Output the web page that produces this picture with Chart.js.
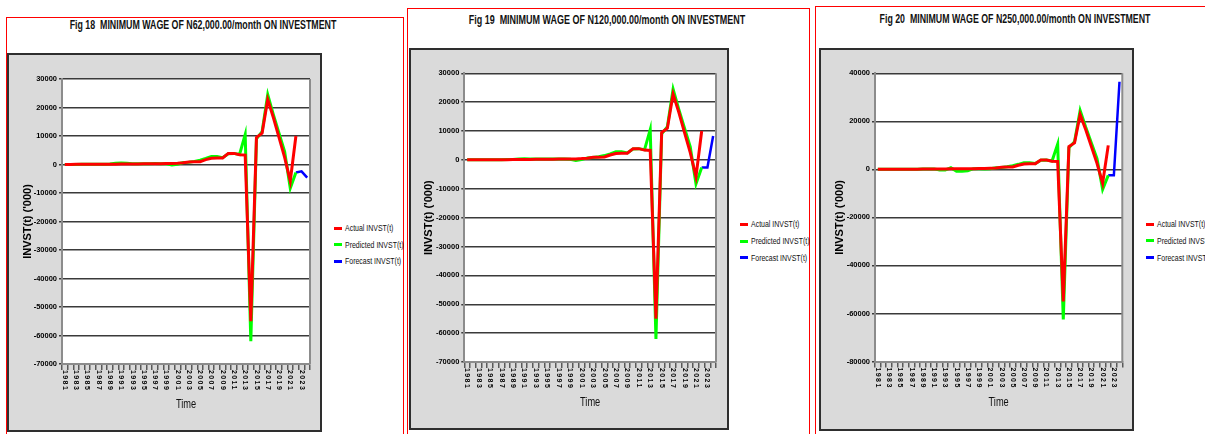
<!DOCTYPE html>
<html>
<head>
<meta charset="utf-8">
<script src="https://cdn.jsdelivr.net/npm/chart.js@4.4.1/dist/chart.umd.min.js"></script>
<style>
  body { margin: 0; width: 1205px; height: 434px; background: #fff; overflow: hidden; position: relative; font-family: 'Liberation Sans', Arial, sans-serif; }
  .frame { position: absolute; border: 1px solid #ff0000; box-sizing: border-box; }
  .title { position: absolute; font-weight: bold; font-size: 12.5px; white-space: pre; color: #111; }
  .box { position: absolute; background: #dadada; border: 2px solid #2e2e2e; box-sizing: border-box; }
  .box canvas { position: absolute; left: 0; top: 0; }
  .legend-item { position: absolute; font-size: 8.5px; white-space: nowrap; color: #111; }
  .swatch { position: absolute; width: 8px; height: 3px; }
</style>
</head>
<body>
<script>
// categories
var years = [1981, 1982, 1983, 1984, 1985, 1986, 1987, 1988, 1989, 1990,
             1991, 1992, 1993, 1994, 1995, 1996, 1997, 1998, 1999, 2000,
             2001, 2002, 2003, 2004, 2005, 2006, 2007, 2008, 2009, 2010,
             2011, 2012, 2013, 2014, 2015, 2016, 2017, 2018, 2019, 2020,
             2021, 2022, 2023, 2024];

// actual INVST(t), 1981 - 2022
var actualInvst = [30, 40, 45, 50, 60, 70, 80, 90, 110, 130,
                   150, 170, 190, 210, 230, 250, 280, 300, 320, 350,
                   450, 600, 900, 950, 1000, 1700, 2200, 2300, 2300, 3900,
                   3900, 3400, 3300, -55000, 9500, 11000, 22800, 16500, 9500, 2500,
                   -5800, 10000];

// predicted INVST(t), 1981 - 2022
var predicted18 = [20, 30, 40, 50, 60, 70, 80, 100, 150, 450,
                   500, 400, 300, 300, 280, 300, 320, 300, 250, -200,
                   100, 700, 800, 1100, 1500, 2100, 2800, 2800, 2400, 3800,
                   3900, 3500, 10500, -62000, 9000, 11500, 24500, 17500, 11000, 4500,
                   -8300, -2800];
var predicted19 = [20, 30, 40, 50, 60, 70, 80, 100, 150, 350,
                   400, 350, 300, 300, 280, 300, 320, 300, 250, -200,
                   100, 700, 800, 1100, 1500, 2100, 2800, 2800, 2400, 3800,
                   3900, 3500, 10500, -62000, 9000, 11500, 24500, 17500, 11000, 4500,
                   -8300, -2600];
var predicted20 = [20, 30, 40, 50, 60, 70, 80, 100, 150, 200,
                   200, -300, -300, 700, -800, -800, -600, 300, 250, 200,
                   300, 700, 800, 1100, 1500, 2100, 2800, 2800, 2400, 3800,
                   3900, 3500, 10500, -62500, 9000, 11500, 24500, 17500, 11000, 4500,
                   -8300, -2500];

// forecast INVST(t), 2022 - 2024
var forecast18 = [-2800, -2400, -4600];
var forecast19 = [-2600, -2600, 8300];
var forecast20 = [-2500, -2500, 36500];

var seriesLabels = ['Actual INVST(t)', 'Predicted INVST(t)', 'Forecast INVST(t)'];
var seriesColors = ['#ff0000', '#00ff00', '#0000ff'];

function onYears(fromYear, vals) {
    return years.map(function(y) {
        var i = y - fromYear;
        return (i >= 0 && i < vals.length) ? vals[i] : null;
    });
}

var panels = [
    { title: 'Fig 18  MINIMUM WAGE OF N62,000.00/month ON INVESTMENT', titleWidth: 267,
      predicted: predicted18, forecast: forecast18, yMin: -70000, yMax: 30000, yStep: 10000,
      frame: [6, 17, 398, 440], titleAt: [203, 25], box: [7, 53, 315, 379],
      plot: [62, 79, 310, 364], yTitleX: 28, timeY: 405, legendAt: [334, 228.3, 16.4] },
    { title: 'Fig 19  MINIMUM WAGE OF N120,000.00/month ON INVESTMENT', titleWidth: 277,
      predicted: predicted19, forecast: forecast19, yMin: -70000, yMax: 30000, yStep: 10000,
      frame: [407, 8, 403, 440], titleAt: [607, 19.5], box: [409, 48, 320, 382],
      plot: [464.3, 73.3, 716, 362], yTitleX: 428.5, timeY: 402.7, legendAt: [740, 224.3, 16.7] },
    { title: 'Fig 20  MINIMUM WAGE OF N250,000.00/month ON INVESTMENT', titleWidth: 271,
      predicted: predicted20, forecast: forecast20, yMin: -80000, yMax: 40000, yStep: 20000,
      frame: [815, 6, 400, 440], titleAt: [1015, 19], box: [819, 48, 315, 383],
      plot: [875, 73.3, 1122.3, 361.5], yTitleX: 840, timeY: 402.7, legendAt: [1146, 224, 16.8] }
];

// white plot background, right border, rotated year labels and the "Time" title
var plotFrame = {
    id: 'plotFrame',
    beforeDraw: function(chart) {
        var a = chart.chartArea, ctx = chart.ctx;
        ctx.save();
        ctx.fillStyle = '#ffffff';
        ctx.fillRect(a.left, a.top, a.right - a.left, a.bottom - a.top);
        ctx.restore();
    },
    afterDraw: function(chart, args, opts) {
        var a = chart.chartArea, ctx = chart.ctx, xs = chart.scales.x;
        ctx.save();
        ctx.strokeStyle = '#8c8c8c';
        ctx.lineWidth = 2;
        ctx.beginPath();
        ctx.moveTo(a.right, a.top);
        ctx.lineTo(a.right, a.bottom);
        ctx.stroke();

        ctx.fillStyle = '#000';
        ctx.font = 'bold 7px "Liberation Sans"';
        ctx.letterSpacing = '1.4px';
        ctx.textAlign = 'left';
        ctx.textBaseline = 'middle';
        xs.ticks.forEach(function(t, i) {
            if (years[i] % 2 === 0) return;
            ctx.save();
            ctx.translate(xs.getPixelForTick(i), xs.top + 6);
            ctx.rotate(Math.PI / 2);
            ctx.fillText(String(years[i]), 0, 0);
            ctx.restore();
        });

        ctx.letterSpacing = '0px';
        ctx.fillStyle = '#111';
        ctx.font = '12.5px "Liberation Sans"';
        ctx.textAlign = 'center';
        ctx.translate((xs.left + xs.right) / 2, opts.timeY);
        ctx.scale(0.74, 1);
        ctx.fillText(opts.timeText, 0, 0);
        ctx.restore();
    }
};

function place(node, x, y, w, h) {
    node.style.left = x + 'px';
    node.style.top = y + 'px';
    if (w != null) node.style.width = w + 'px';
    if (h != null) node.style.height = h + 'px';
}

panels.forEach(function(p) {
    var frame = document.createElement('div');
    frame.className = 'frame';
    place(frame, p.frame[0], p.frame[1], p.frame[2], p.frame[3]);
    document.body.appendChild(frame);

    var title = document.createElement('div');
    title.className = 'title';
    title.textContent = p.title;
    place(title, p.titleAt[0], p.titleAt[1]);
    document.body.appendChild(title);
    var k = p.titleWidth / title.offsetWidth;
    title.style.transform = 'translate(-50%, -50%) scaleX(' + k.toFixed(3) + ')';

    var box = document.createElement('div');
    box.className = 'box';
    place(box, p.box[0], p.box[1], p.box[2], p.box[3]);
    document.body.appendChild(box);

    var cx = p.box[0] + 2, cy = p.box[1] + 2, cw = p.box[2] - 4, ch = p.box[3] - 4;
    var canvas = document.createElement('canvas');
    canvas.width = cw;
    canvas.height = ch;
    canvas.style.width = cw + 'px';
    canvas.style.height = ch + 'px';
    box.appendChild(canvas);

    var yTitleSize = 11;
    var yLeft = p.yTitleX - cx - yTitleSize * 0.6;
    var yW = p.plot[0] - cx - yLeft;
    var xH = p.timeY - p.plot[3] + 10;
    var pad = {
        left: yLeft,
        top: p.plot[1] - cy,
        right: cx + cw - p.plot[2],
        bottom: ch - (p.plot[3] - cy) - xH
    };

    var chart = new Chart(canvas, {
        type: 'line',
        data: {
            labels: years,
            datasets: [{
                label: seriesLabels[0],
                data: onYears(1981, actualInvst),
                borderColor: seriesColors[0],
                borderWidth: 3
            }, {
                label: seriesLabels[1],
                data: onYears(1981, p.predicted),
                borderColor: seriesColors[1],
                borderWidth: 3
            }, {
                label: seriesLabels[2],
                data: onYears(2022, p.forecast),
                borderColor: seriesColors[2],
                borderWidth: 2.5
            }]
        },
        options: {
            responsive: false,
            animation: false,
            devicePixelRatio: 1,
            layout: { padding: pad },
            elements: { point: { radius: 0 }, line: { tension: 0 } },
            spanGaps: false,
            plugins: {
                legend: { display: false },
                tooltip: { enabled: false },
                plotFrame: { timeText: 'Time', timeY: p.timeY - cy }
            },
            scales: {
                x: {
                    type: 'category',
                    offset: true,
                    grid: { offset: true, drawOnChartArea: false, drawTicks: true, tickLength: 6, color: '#5a5a5a', lineWidth: 1.5 },
                    border: { color: '#8c8c8c', width: 2 },
                    ticks: { display: false, autoSkip: false },
                    afterFit: function(s) { s.height = xH; }
                },
                y: {
                    min: p.yMin,
                    max: p.yMax,
                    ticks: { stepSize: p.yStep, color: '#000', padding: 2,
                             font: { family: '"Liberation Sans"', size: 7.5, weight: 'bold' },
                             callback: function(v) { return String(v); } },
                    grid: { color: '#3a3a3a', lineWidth: 1.4, tickLength: 3 },
                    border: { color: '#8c8c8c', width: 2 },
                    title: { display: true, text: "INVST(t) ('000)", color: '#000', padding: 0,
                             font: { family: '"Liberation Sans"', size: yTitleSize, weight: 'bold' } },
                    afterFit: function(s) { s.width = yW; }
                }
            }
        },
        plugins: [plotFrame]
    });

    // legend built from the chart's datasets
    chart.data.datasets.forEach(function(ds, n) {
        var yMid = p.legendAt[1] + n * p.legendAt[2];
        var sw = document.createElement('div');
        sw.className = 'swatch';
        sw.style.background = ds.borderColor;
        place(sw, p.legendAt[0], yMid - 1.5);
        document.body.appendChild(sw);
        var item = document.createElement('div');
        item.className = 'legend-item';
        item.textContent = ds.label;
        item.style.transformOrigin = 'left center';
        item.style.transform = 'translateY(-50%) scaleX(0.82)';
        place(item, p.legendAt[0] + 11, yMid);
        document.body.appendChild(item);
    });
});
</script>
</body>
</html>
